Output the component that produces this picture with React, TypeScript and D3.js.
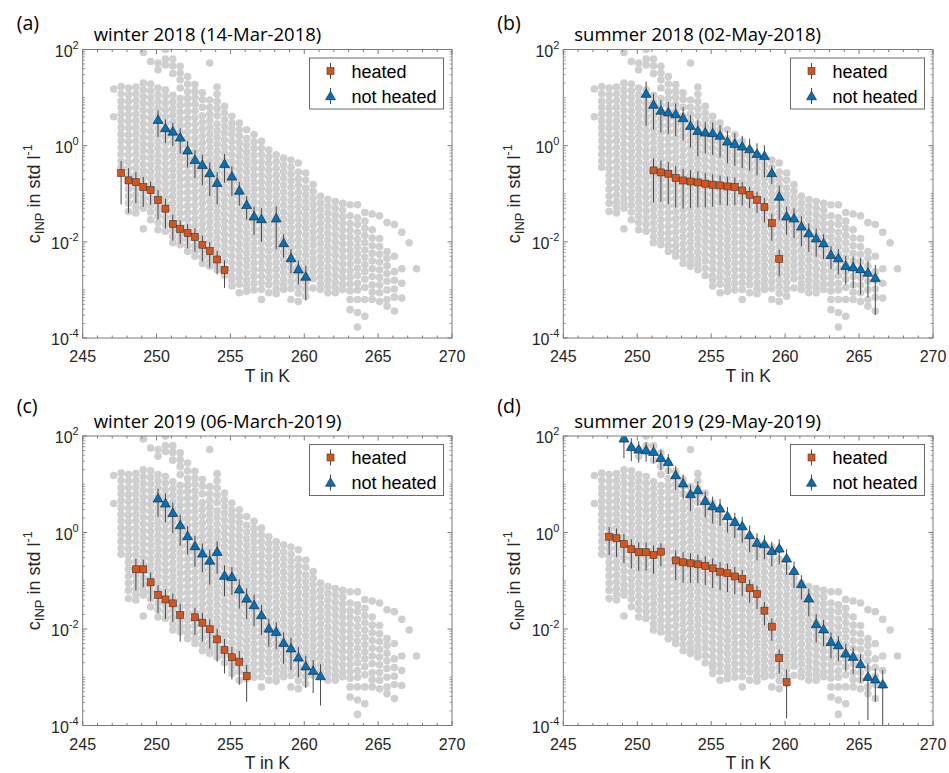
import React from 'react';
import * as d3 from 'd3';

const W = 949;
const H = 773;

// Background INP spectra (all samples), one column per temperature step.
const grayTemps = [
  247.1, 247.6, 248.1, 248.6, 249.1, 249.6, 250.1, 250.6, 251.1, 251.6,
  252.1, 252.6, 253.1, 253.6, 254.1, 254.6, 255.1, 255.6, 256.1, 256.6,
  257.1, 257.6, 258.1, 258.6, 259.1, 259.6, 260.1, 260.6, 261.1, 261.6,
  262.1, 262.6, 263.1, 263.6, 264.1, 264.6, 265.1, 265.6, 266.1, 266.6,
  267.1, 267.6,
];
// log10 of c_INP (std l^-1) of every background dot in each column
const grayLog10 = [
  [1.18, 0.6],
  [1.23, 1.08, 0.93, 0.8, 0.66, 0.52, 0.38, 0.24, 0.1, -0.04, -0.18, -0.32, -0.45],
  [1.2, 1.06, 0.92, 0.78, 0.64, 0.5, 0.36, 0.22, 0.08, -0.06, -0.2, -0.34, -0.48, -0.62, -0.76, -0.9, -1.05, -1.2, -1.37],
  [1.22, 1.08, 0.94, 0.8, 0.66, 0.52, 0.38, 0.24, 0.1, -0.04, -0.18, -0.32, -0.46, -0.6, -0.74, -0.88, -1.02, -1.16, -1.28, -1.4],
  [1.94, 1.3, 1.16, 1.02, 0.88, 0.74, 0.6, 0.46, 0.32, 0.18, 0.04, -0.1, -0.24, -0.38, -0.52, -0.66, -0.8, -0.94, -1.08, -1.2, -1.3, -1.73],
  [1.75, 1.28, 1.14, 1.0, 0.86, 0.72, 0.58, 0.44, 0.3, 0.16, 0.02, -0.12, -0.26, -0.4, -0.54, -0.68, -0.82, -0.96, -1.1, -1.24, -1.38, -1.54],
  [1.72, 1.58, 1.2, 1.06, 0.92, 0.78, 0.64, 0.5, 0.36, 0.22, 0.08, -0.06, -0.2, -0.34, -0.48, -0.62, -0.76, -0.9, -1.04, -1.18, -1.32, -1.46, -1.6, -1.75],
  [2.0, 1.8, 1.68, 1.16, 1.02, 0.88, 0.74, 0.6, 0.46, 0.32, 0.18, 0.04, -0.1, -0.24, -0.38, -0.52, -0.66, -0.8, -0.94, -1.08, -1.22, -1.36, -1.5, -1.64, -1.78],
  [1.8, 1.66, 1.5, 1.05, 0.91, 0.77, 0.63, 0.49, 0.35, 0.21, 0.07, -0.07, -0.21, -0.35, -0.49, -0.63, -0.77, -0.91, -1.05, -1.19, -1.33, -1.47, -1.61, -1.75, -1.89, -2.02],
  [1.65, 1.51, 1.37, 1.2, 0.98, 0.84, 0.7, 0.56, 0.42, 0.28, 0.14, 0.0, -0.14, -0.28, -0.42, -0.56, -0.7, -0.84, -0.98, -1.12, -1.26, -1.4, -1.54, -1.68, -1.82, -1.95, -2.06],
  [1.44, 1.28, 1.12, 0.98, 0.85, 0.71, 0.57, 0.43, 0.29, 0.15, 0.01, -0.13, -0.27, -0.41, -0.55, -0.69, -0.83, -0.97, -1.11, -1.25, -1.39, -1.53, -1.67, -1.81, -1.95, -2.08, -2.2],
  [1.27, 1.13, 1.0, 0.86, 0.72, 0.58, 0.44, 0.3, 0.16, 0.02, -0.12, -0.26, -0.4, -0.54, -0.68, -0.82, -0.96, -1.1, -1.24, -1.38, -1.52, -1.66, -1.8, -1.94, -2.08, -2.2, -2.3],
  [1.1, 0.96, 0.8, 0.62, 0.48, 0.34, 0.2, 0.06, -0.08, -0.22, -0.36, -0.5, -0.64, -0.78, -0.92, -1.06, -1.2, -1.34, -1.48, -1.62, -1.76, -1.9, -2.04, -2.18, -2.32, -2.45],
  [1.72, 0.95, 0.8, 0.66, 0.52, 0.38, 0.24, 0.1, -0.04, -0.18, -0.32, -0.46, -0.6, -0.74, -0.88, -1.02, -1.16, -1.3, -1.44, -1.58, -1.72, -1.86, -2.0, -2.14, -2.28, -2.4, -2.51],
  [1.22, 1.07, 0.92, 0.77, 0.62, 0.45, 0.31, 0.17, 0.03, -0.11, -0.25, -0.39, -0.53, -0.67, -0.81, -0.95, -1.09, -1.23, -1.37, -1.51, -1.65, -1.79, -1.93, -2.07, -2.21, -2.35, -2.47, -2.58],
  [0.82, 0.68, 0.54, 0.4, 0.26, 0.12, -0.02, -0.16, -0.3, -0.44, -0.58, -0.72, -0.86, -1.0, -1.14, -1.28, -1.42, -1.56, -1.7, -1.84, -1.98, -2.12, -2.26, -2.4, -2.55, -2.7],
  [0.61, 0.47, 0.35, 0.23, 0.09, -0.05, -0.19, -0.33, -0.47, -0.61, -0.75, -0.89, -1.03, -1.17, -1.31, -1.45, -1.59, -1.73, -1.87, -2.01, -2.15, -2.29, -2.43, -2.57, -2.71, -2.79, -2.92],
  [0.47, 0.33, 0.2, 0.06, -0.08, -0.22, -0.36, -0.5, -0.64, -0.78, -0.92, -1.06, -1.2, -1.34, -1.48, -1.62, -1.76, -1.9, -2.04, -2.18, -2.32, -2.46, -2.6, -2.74, -2.88, -3.06],
  [0.33, 0.15, 0.01, -0.13, -0.27, -0.41, -0.55, -0.69, -0.83, -0.97, -1.11, -1.25, -1.39, -1.53, -1.67, -1.81, -1.95, -2.09, -2.23, -2.37, -2.51, -2.65, -2.79, -2.92, -3.03],
  [0.23, 0.08, -0.06, -0.2, -0.34, -0.48, -0.62, -0.76, -0.9, -1.04, -1.18, -1.32, -1.46, -1.6, -1.74, -1.88, -2.02, -2.16, -2.3, -2.44, -2.58, -2.72, -2.86, -3.0],
  [0.09, -0.05, -0.19, -0.33, -0.47, -0.61, -0.75, -0.89, -1.03, -1.17, -1.31, -1.45, -1.59, -1.73, -1.87, -2.01, -2.15, -2.29, -2.43, -2.57, -2.71, -2.85, -2.99, -3.2],
  [-0.09, -0.23, -0.37, -0.51, -0.65, -0.79, -0.93, -1.07, -1.21, -1.35, -1.49, -1.63, -1.77, -1.91, -2.05, -2.19, -2.33, -2.47, -2.61, -2.75, -2.89, -3.06],
  [-0.19, -0.33, -0.47, -0.61, -0.75, -0.89, -1.03, -1.17, -1.31, -1.45, -1.59, -1.73, -1.87, -2.01, -2.15, -2.29, -2.43, -2.57, -2.71, -2.85, -2.98, -3.08],
  [-0.26, -0.4, -0.54, -0.68, -0.82, -0.96, -1.1, -1.24, -1.38, -1.52, -1.66, -1.8, -1.94, -2.08, -2.22, -2.36, -2.5, -2.64, -2.78, -2.9, -2.99],
  [-0.3, -0.45, -0.59, -0.73, -0.87, -1.01, -1.15, -1.29, -1.43, -1.57, -1.71, -1.85, -1.99, -2.13, -2.27, -2.41, -2.55, -2.69, -2.83, -2.97, -3.2],
  [-0.36, -0.55, -0.69, -0.83, -0.97, -1.11, -1.25, -1.39, -1.53, -1.67, -1.81, -1.95, -2.09, -2.23, -2.37, -2.51, -2.65, -2.79, -2.93, -3.07, -3.24],
  [-0.57, -0.72, -0.88, -1.02, -1.16, -1.3, -1.44, -1.58, -1.72, -1.86, -2.0, -2.14, -2.28, -2.42, -2.56, -2.7, -2.84, -2.98, -3.13],
  [-0.81, -0.95, -1.09, -1.23, -1.37, -1.51, -1.65, -1.79, -1.93, -2.07, -2.21, -2.35, -2.49, -2.63, -2.77, -2.96],
  [-1.05, -1.19, -1.33, -1.47, -1.61, -1.75, -1.89, -2.03, -2.17, -2.31, -2.45, -2.59, -2.73, -2.87, -2.99],
  [-1.12, -1.26, -1.4, -1.54, -1.68, -1.82, -1.96, -2.1, -2.24, -2.38, -2.52, -2.66, -2.8, -2.93, -3.06],
  [-1.16, -1.3, -1.44, -1.58, -1.72, -1.86, -2.0, -2.14, -2.28, -2.42, -2.56, -2.7, -2.84, -2.96, -3.06],
  [-1.2, -1.34, -1.48, -1.62, -1.76, -1.9, -2.04, -2.18, -2.32, -2.46, -2.6, -2.74, -2.88, -2.99],
  [-1.23, -1.46, -1.62, -1.76, -1.9, -2.04, -2.18, -2.32, -2.46, -2.6, -2.74, -2.88, -3.02, -3.2, -3.41],
  [-1.23, -1.5, -1.64, -1.8, -1.95, -2.1, -2.25, -2.4, -2.55, -2.7, -2.86, -3.0, -3.2, -3.47, -3.77],
  [-1.39, -1.57, -1.72, -1.87, -2.02, -2.17, -2.32, -2.47, -2.62, -2.78, -2.95, -3.2, -3.55],
  [-1.42, -1.75, -1.92, -2.08, -2.24, -2.4, -2.56, -2.72, -2.9, -3.05, -3.2],
  [-1.46, -1.93, -2.1, -2.26, -2.42, -2.58, -2.74, -2.9, -3.06, -3.24],
  [-1.6, -2.2, -2.34, -2.5, -2.66, -2.82, -3.0, -3.2, -3.34],
  [-1.64, -2.3, -2.62, -2.8, -2.98, -3.15, -3.44],
  [-1.8, -2.56, -2.86, -3.17],
  [-2.02],
  [-2.56],
];

const xTickValues = [245, 250, 255, 260, 265, 270];
const xTickLabels = ['245', '250', '255', '260', '265', '270'];
const yTickValues = [1e-4, 1e-2, 1e0, 1e2];
const yTickExponents = ['-4', '-2', '0', '2'];
const legendLabels = ['heated', 'not heated'];
const panelLetters = ['(a)', '(b)', '(c)', '(d)'];
const panelTitles = [
  'winter 2018 (14-Mar-2018)',
  'summer 2018 (02-May-2018)',
  'winter 2019 (06-March-2019)',
  'summer 2019 (29-May-2019)',
];

// (a) winter 2018
const aHeatedT = [247.6, 248.1, 248.6, 249.1, 249.6, 250.1, 250.6, 251.1, 251.6, 252.1, 252.6, 253.1, 253.6, 254.1, 254.6];
const aHeatedC = [0.27, 0.19, 0.174, 0.138, 0.119, 0.074, 0.049, 0.0236, 0.0185, 0.0153, 0.0127, 0.0087, 0.0064, 0.0043, 0.0026];
const aHeatedErr = [0.21, 0.15, 0.11, 0.085, 0.06, 0.045, 0.03, 0.013, 0.0095, 0.008, 0.0065, 0.0048, 0.0035, 0.0022, 0.0015];
const aNotT = [250.1, 250.6, 251.1, 251.6, 252.1, 252.6, 253.1, 253.6, 254.1, 254.6, 255.1, 255.6, 256.1, 256.6, 257.1, 258.1, 258.6, 259.1, 259.6, 260.1];
const aNotC = [3.47, 2.33, 1.98, 1.49, 0.8, 0.51, 0.4, 0.27, 0.17, 0.42, 0.23, 0.117, 0.059, 0.034, 0.03, 0.031, 0.0095, 0.0046, 0.0027, 0.0019];
const aNotErr = [1.95, 1.2, 1.0, 0.8, 0.45, 0.3, 0.25, 0.18, 0.11, 0.25, 0.14, 0.06, 0.03, 0.02, 0.02, 0.024, 0.0048, 0.0024, 0.0014, 0.0013];

// (b) summer 2018
const bHeatedT = [251.1, 251.6, 252.1, 252.6, 253.1, 253.6, 254.1, 254.6, 255.1, 255.6, 256.1, 256.6, 257.1, 257.6, 258.1, 258.6, 259.1, 259.6];
const bHeatedC = [0.306, 0.278, 0.261, 0.212, 0.189, 0.18, 0.172, 0.162, 0.154, 0.149, 0.142, 0.138, 0.117, 0.095, 0.075, 0.053, 0.0245, 0.0044];
const bHeatedErr = [0.24, 0.21, 0.2, 0.16, 0.14, 0.13, 0.12, 0.11, 0.1, 0.09, 0.085, 0.08, 0.06, 0.045, 0.035, 0.028, 0.014, 0.0025];
const bNotT = [250.6, 251.1, 251.6, 252.1, 252.6, 253.1, 253.6, 254.1, 254.6, 255.1, 255.6, 256.1, 256.6, 257.1, 257.6, 258.1, 258.6, 259.1, 259.6, 260.1, 260.6, 261.1, 261.6, 262.1, 262.6, 263.1, 263.6, 264.1, 264.6, 265.1, 265.6, 266.1];
const bNotC = [12.1, 7.15, 5.36, 4.94, 4.57, 3.78, 2.61, 2.05, 1.89, 1.84, 1.62, 1.23, 1.1, 0.97, 0.85, 0.68, 0.62, 0.27, 0.088, 0.034, 0.031, 0.021, 0.0152, 0.0119, 0.0094, 0.0054, 0.0046, 0.0032, 0.003, 0.0027, 0.0023, 0.0018];
const bNotErr = [9.5, 5.0, 3.5, 3.2, 3.0, 2.5, 1.7, 1.45, 1.2, 1.2, 1.05, 0.8, 0.72, 0.63, 0.55, 0.44, 0.4, 0.11, 0.06, 0.02, 0.019, 0.013, 0.009, 0.007, 0.005, 0.0027, 0.0025, 0.0019, 0.0019, 0.0019, 0.0016, 0.0015];

// (c) winter 2019
const cHeatedT = [248.6, 249.1, 249.6, 250.1, 250.6, 251.1, 251.6, 252.6, 253.1, 253.6, 254.1, 254.6, 255.1, 255.6, 256.1];
const cHeatedC = [0.173, 0.173, 0.093, 0.051, 0.041, 0.034, 0.0195, 0.0175, 0.0135, 0.0099, 0.0061, 0.0037, 0.0026, 0.0021, 0.00106];
const cHeatedErr = [0.11, 0.1, 0.055, 0.03, 0.025, 0.02, 0.014, 0.01, 0.008, 0.006, 0.004, 0.0025, 0.0017, 0.0014, 0.00075];
const cNotT = [250.1, 250.6, 251.1, 251.6, 252.1, 252.6, 253.1, 253.6, 254.1, 254.6, 255.1, 255.6, 256.1, 256.6, 257.1, 257.6, 258.1, 258.6, 259.1, 259.6, 260.1, 260.6, 261.1];
const cNotC = [5.12, 4.03, 2.57, 1.43, 0.85, 0.525, 0.37, 0.263, 0.4, 0.128, 0.121, 0.0665, 0.043, 0.0314, 0.0195, 0.0103, 0.0088, 0.0052, 0.004, 0.0026, 0.0017, 0.00137, 0.00106];
const cNotErr = [3.0, 2.4, 1.6, 0.9, 0.5, 0.33, 0.22, 0.18, 0.26, 0.08, 0.07, 0.04, 0.027, 0.02, 0.012, 0.006, 0.005, 0.0033, 0.0026, 0.0016, 0.0011, 0.0009, 0.0008];

// (d) summer 2019
const dHeatedT = [248.1, 248.6, 249.1, 249.6, 250.1, 250.6, 251.1, 251.6, 252.6, 253.1, 253.6, 254.1, 254.6, 255.1, 255.6, 256.1, 256.6, 257.1, 257.6, 258.1, 258.6, 259.1, 259.6, 260.1];
const dHeatedC = [0.82, 0.76, 0.58, 0.45, 0.39, 0.39, 0.34, 0.4, 0.263, 0.241, 0.23, 0.219, 0.202, 0.181, 0.154, 0.143, 0.123, 0.108, 0.07, 0.053, 0.024, 0.0112, 0.0025, 0.00079];
const dHeatedErr = [0.48, 0.45, 0.35, 0.27, 0.23, 0.23, 0.2, 0.2, 0.16, 0.15, 0.14, 0.13, 0.12, 0.11, 0.09, 0.085, 0.07, 0.06, 0.035, 0.027, 0.012, 0.0055, 0.0013, 0.00065];
const dNotT = [249.1, 249.6, 250.1, 250.6, 251.1, 251.6, 252.1, 252.6, 253.1, 253.6, 254.1, 254.6, 255.1, 255.6, 256.1, 256.6, 257.1, 257.6, 258.1, 258.6, 259.1, 259.6, 260.1, 260.6, 261.1, 261.6, 262.1, 262.6, 263.1, 263.6, 264.1, 264.6, 265.1, 265.6, 266.1, 266.6];
const dNotC = [89.6, 60, 53, 51.3, 47.3, 35.5, 29.3, 15.6, 10.5, 6.28, 7.6, 4.56, 3.54, 3.17, 2.2, 1.67, 1.36, 0.89, 0.615, 0.578, 0.42, 0.47, 0.292, 0.161, 0.0857, 0.0433, 0.0127, 0.0099, 0.00546, 0.00466, 0.00313, 0.00267, 0.00188, 0.00103, 0.00091, 0.00072];
const dNotErr = [55, 30, 25, 22, 20, 16, 13, 8, 5.5, 3.5, 4, 2.5, 2, 1.8, 1.2, 0.9, 0.75, 0.5, 0.35, 0.3, 0.22, 0.25, 0.16, 0.09, 0.045, 0.025, 0.0075, 0.0055, 0.003, 0.0025, 0.0018, 0.0015, 0.0011, 0.0009, 0.0006, 0.0007];

type Series = { t: number[]; c: number[]; e: number[] };

const panelData: { heated: Series; notHeated: Series }[] = [
  { heated: { t: aHeatedT, c: aHeatedC, e: aHeatedErr }, notHeated: { t: aNotT, c: aNotC, e: aNotErr } },
  { heated: { t: bHeatedT, c: bHeatedC, e: bHeatedErr }, notHeated: { t: bNotT, c: bNotC, e: bNotErr } },
  { heated: { t: cHeatedT, c: cHeatedC, e: cHeatedErr }, notHeated: { t: cNotT, c: cNotC, e: cNotErr } },
  { heated: { t: dHeatedT, c: dHeatedC, e: dHeatedErr }, notHeated: { t: dNotT, c: dNotC, e: dNotErr } },
];

// Axes boxes in page pixels
const layout = [
  { x0: 82.7, x1: 452, y0: 49.5, y1: 338, letterDy: 20 },
  { x0: 563.3, x1: 933, y0: 49.5, y1: 338, letterDy: 20 },
  { x0: 82.7, x1: 452, y0: 436, y1: 725.5, letterDy: 23 },
  { x0: 563.3, x1: 933, y0: 436, y1: 725.5, letterDy: 23 },
];

const ORANGE = '#D95319';
const BLUE = '#0072BD';
const DOT = '#cfcfcf';
const AXIS = '#7a7a7a';
const TEXT = '#262626';
const ERR = '#4a4a4a';
const SANS = '"Liberation Sans", Arial, Helvetica, sans-serif';
const TITLE_FONT = '"Open Sans", "Noto Sans", sans-serif';

const SQ = 7;
const TRI_W = 10;
const TRI_H = 8.5;

function Square({ cx, cy }: { cx: number; cy: number }) {
  return (
    <rect x={cx - SQ / 2} y={cy - SQ / 2} width={SQ} height={SQ}
      fill={ORANGE} stroke="#3a3a3a" strokeWidth={0.6} />
  );
}

function Triangle({ cx, cy }: { cx: number; cy: number }) {
  const d = `M${cx},${cy - TRI_H / 2 - 0.5} L${cx + TRI_W / 2},${cy + TRI_H / 2 - 0.5} L${cx - TRI_W / 2},${cy + TRI_H / 2 - 0.5} Z`;
  return <path d={d} fill={BLUE} stroke="#1f1f1f" strokeWidth={0.6} />;
}

function Panel({ idx }: { idx: number }) {
  const { x0, x1, y0, y1, letterDy } = layout[idx];
  const data = panelData[idx];
  const x = d3.scaleLinear().domain([245, 270]).range([x0, x1]);
  const y = d3.scaleLog().domain([1e-4, 1e2]).range([y1, y0]);
  const clipId = `plot-clip-${idx}`;

  const minorX = d3.range(245, 271, 1).filter((v) => v % 5 !== 0);
  const minorY: number[] = [];
  for (let k = -4; k < 2; k++) {
    for (let m = 1; m < 10; m++) {
      if (m === 1 && k % 2 === 0) continue;
      minorY.push(m * Math.pow(10, k));
    }
  }

  const dots: { t: number; v: number }[] = [];
  grayTemps.forEach((t, i) => grayLog10[i].forEach((lv) => dots.push({ t, v: Math.pow(10, lv) })));

  const errLines = (s: Series) =>
    s.t.map((t, i) => {
      const lo = Math.max(s.c[i] - s.e[i], 1e-6);
      const hi = s.c[i] + s.e[i];
      return <line key={i} x1={x(t)} x2={x(t)} y1={y(hi)} y2={y(lo)} stroke={ERR} strokeWidth={1} />;
    });

  const lw = 134;
  const lh = 51;
  const lx = x1 - 8.5 - lw;
  const ly = y0 + 8.5;
  const mid = (x0 + x1) / 2;

  return (
    <g>
      <defs>
        <clipPath id={clipId}>
          <rect x={x0} y={y0} width={x1 - x0} height={y1 - y0} />
        </clipPath>
      </defs>
      <rect x={x0} y={y0} width={x1 - x0} height={y1 - y0} fill="#fff" />

      <g clipPath={`url(#${clipId})`}>
        {dots.map((d, i) => (
          <circle key={i} cx={x(d.t)} cy={y(d.v)} r={3.8} fill={DOT} />
        ))}
        {errLines(data.heated)}
        {data.heated.t.map((t, i) => (
          <Square key={i} cx={x(t)} cy={y(data.heated.c[i])} />
        ))}
        {errLines(data.notHeated)}
        {data.notHeated.t.map((t, i) => (
          <Triangle key={i} cx={x(t)} cy={y(data.notHeated.c[i])} />
        ))}
      </g>

      {/* ticks (inward, on all four sides) */}
      <g stroke={AXIS} strokeWidth={1}>
        {xTickValues.map((v) => (
          <g key={`xt${v}`}>
            <line x1={x(v)} x2={x(v)} y1={y1} y2={y1 - 4.5} />
            <line x1={x(v)} x2={x(v)} y1={y0} y2={y0 + 4.5} />
          </g>
        ))}
        {minorX.map((v) => (
          <g key={`xm${v}`}>
            <line x1={x(v)} x2={x(v)} y1={y1} y2={y1 - 2.5} />
            <line x1={x(v)} x2={x(v)} y1={y0} y2={y0 + 2.5} />
          </g>
        ))}
        {yTickValues.map((v) => (
          <g key={`yt${v}`}>
            <line x1={x0} x2={x0 + 4.5} y1={y(v)} y2={y(v)} />
            <line x1={x1} x2={x1 - 4.5} y1={y(v)} y2={y(v)} />
          </g>
        ))}
        {minorY.map((v, i) => (
          <g key={`ym${i}`}>
            <line x1={x0} x2={x0 + 2.5} y1={y(v)} y2={y(v)} strokeWidth={0.7} />
            <line x1={x1} x2={x1 - 2.5} y1={y(v)} y2={y(v)} strokeWidth={0.7} />
          </g>
        ))}
      </g>
      <rect x={x0} y={y0} width={x1 - x0} height={y1 - y0} fill="none" stroke={AXIS} strokeWidth={1} />

      {/* tick labels */}
      <g fontFamily={SANS} fill={TEXT}>
        {xTickValues.map((v, i) => (
          <text key={`xl${v}`} x={x(v)} y={y1 + 24} fontSize={16} textAnchor="middle">
            {xTickLabels[i]}
          </text>
        ))}
        {yTickValues.map((v, i) => (
          <text key={`yl${v}`} x={x0 - 4} y={y(v) + 7} fontSize={16} textAnchor="end">
            10<tspan fontSize={11} dy={-8}>{yTickExponents[i]}</tspan>
          </text>
        ))}
      </g>

      {/* axis labels */}
      <text x={mid} y={y1 + 43.5} fontFamily={SANS} fontSize={17.5} fill={TEXT} textAnchor="middle">
        T in K
      </text>
      <text
        transform={`translate(${x0 - 43},${(y0 + y1) / 2}) rotate(-90)`}
        fontFamily={SANS} fontSize={18} fill={TEXT} textAnchor="middle"
      >
        c<tspan fontSize={13} dy={4}>INP</tspan>
        <tspan dy={-4}> in std l</tspan>
        <tspan fontSize={12.5} dy={-8}>-1</tspan>
      </text>

      {/* legend */}
      <g>
        <rect x={lx} y={ly} width={lw} height={lh} fill="#fff" stroke="#6a6a6a" strokeWidth={1} />
        {legendLabels.map((label, i) => {
          const cy = ly + 13 + i * 25;
          const mx = lx + 21;
          return (
            <g key={label}>
              <line x1={mx} x2={mx} y1={cy - 8} y2={cy + 8} stroke={ERR} strokeWidth={1} />
              {i === 0 ? <Square cx={mx} cy={cy} /> : <Triangle cx={mx} cy={cy} />}
              <text x={lx + 42} y={cy + 6.5} fontFamily={SANS} fontSize={18} fill="#000">
                {label}
              </text>
            </g>
          );
        })}
      </g>

      {/* panel letter and title */}
      <text x={x0 - 66} y={y0 - letterDy} fontFamily={TITLE_FONT} fontSize={19.5} fill="#000">
        {panelLetters[idx]}
      </text>
      <text x={x0 + 11} y={y0 - 8.3} fontFamily={TITLE_FONT} fontSize={18.5} fill="#000">
        {panelTitles[idx]}
      </text>
    </g>
  );
}

export default function App() {
  return (
    <svg
      width={W}
      height={H}
      viewBox={`0 0 ${W} ${H}`}
      style={{ position: 'absolute', left: 0, top: 0, background: '#fff' }}
    >
      <rect x={0} y={0} width={W} height={H} fill="#fff" />
      {[0, 1, 2, 3].map((i) => (
        <Panel key={i} idx={i} />
      ))}
    </svg>
  );
}
